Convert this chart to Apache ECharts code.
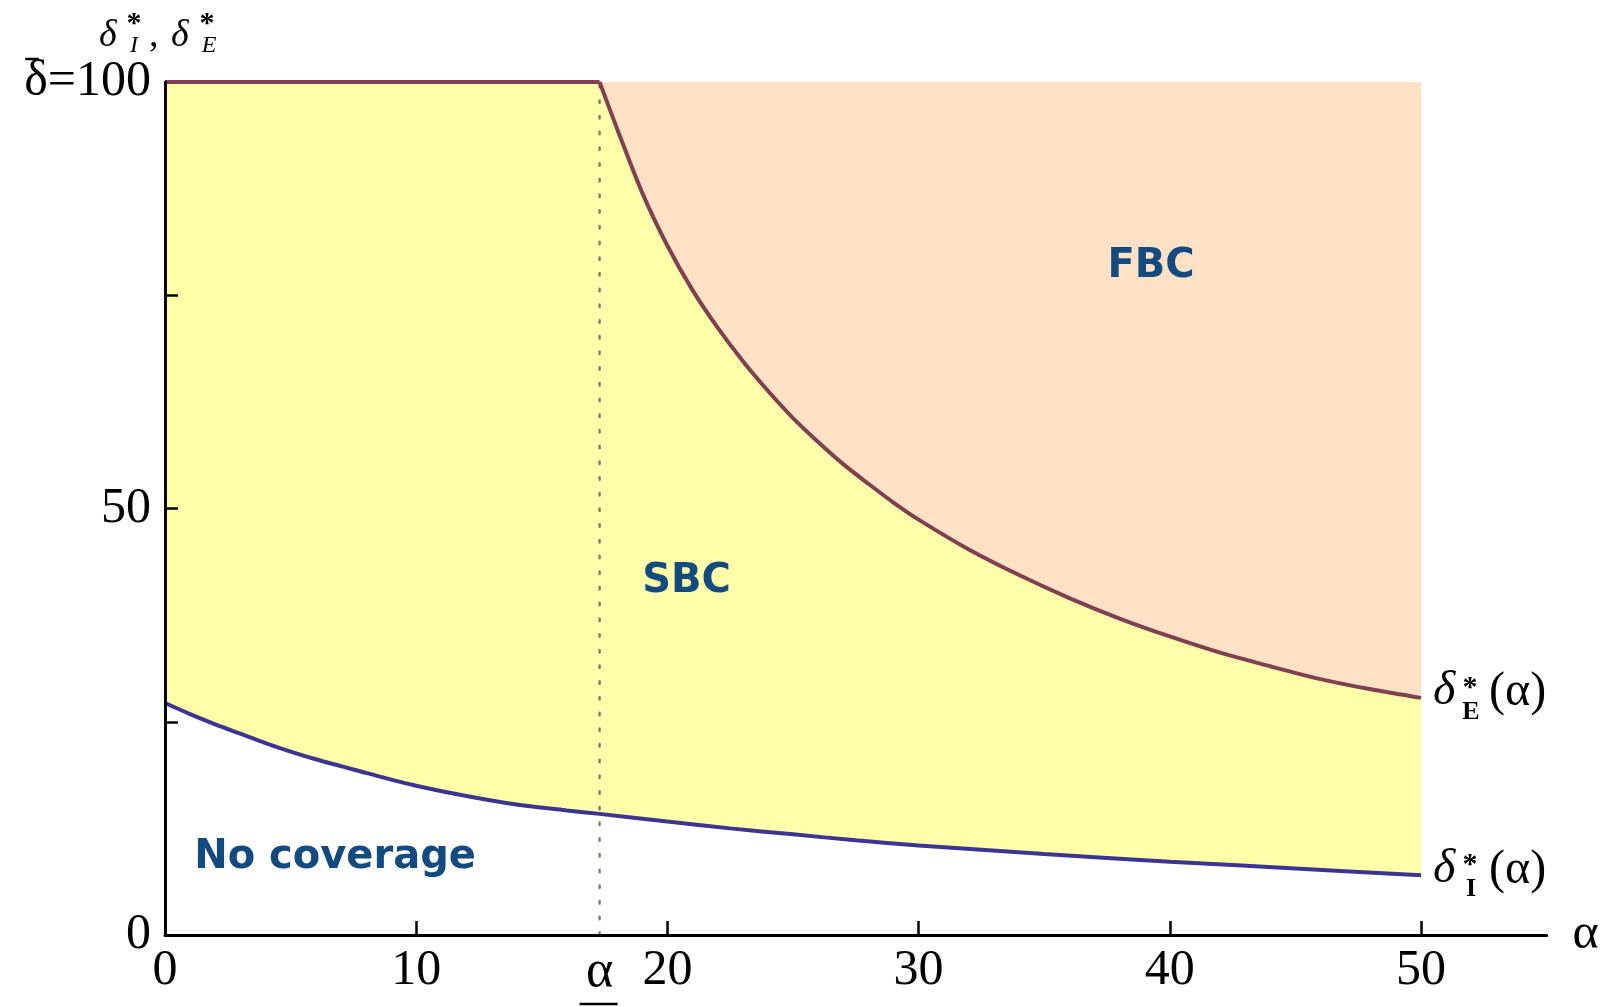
<!DOCTYPE html>
<html><head><meta charset="utf-8">
<script src="https://cdn.jsdelivr.net/npm/echarts@6/dist/echarts.min.js"></script>
<style>html,body{margin:0;padding:0;background:#fff}#c{width:1614px;height:1007px}</style>
</head><body><div id="c"></div>
<script>
// ---- data ----
const alphaE = [17.3,18,19,20,21,22,23,24,25,26,27,28,29,30,32,34,36,38,40,42,44,46,48,50];
const deltaE = [100,94.5,87.0,80.8,75.6,71.2,67.3,63.8,60.6,57.8,55.2,52.9,50.7,48.7,45.2,42.2,39.5,37.1,35.0,33.1,31.5,30.0,28.8,27.8];
const alphaI = [0,1,2,3,4,5,6,7,8,10,12,14,16,17.3,20,22.5,25,27.5,30,35,40,45,50];
const deltaI = [27.2,25.9,24.7,23.6,22.5,21.5,20.6,19.8,19.0,17.5,16.3,15.3,14.6,14.2,13.3,12.5,11.8,11.1,10.5,9.5,8.6,7.8,7.0];
const deltaBar = 100;
const alphaUnder = 17.3;
const xTickValues = [10,20,30,40,50];
const xLabelValues = [0,10,20,30,40,50];
const yTickValues = [25,50,75];
const yLabelValues = [0,50,100];
const regionNames = ['FBC','SBC','No coverage'];
const regionAlpha = [39.25,20.76,6.77];
const regionDelta = [78.3,41.4,9.06];

// ---- build ----
const SERIF = '"Liberation Serif", "Times New Roman", serif';
const ePts = alphaE.map((a,i)=>[a,deltaE[i]]);
const flatPts = [[0,deltaBar],[alphaE[0],deltaE[0]]];
const iPts = alphaI.map((a,i)=>[a,deltaI[i]]);
const regionPts = regionNames.map((n,i)=>({name:n,value:[regionAlpha[i],regionDelta[i]]}));

const chart = echarts.init(document.getElementById('c'), null, {renderer:'canvas'});
const axisCommon = {
  z:10,
  splitLine:{show:false},
  axisLine:{show:true, onZero:false, lineStyle:{color:'#000',width:3}},
};
const SM = 0.3;
chart.setOption({
  animation:false,
  backgroundColor:'#fff',
  grid:{left:165, top:82, width:1381.6, height:853},
  xAxis:Object.assign({}, axisCommon, {
    type:'value', min:0, max:55, interval:10,
    axisTick:{show:true, inside:true, length:14, customValues:xTickValues, lineStyle:{color:'#000',width:2.5}},
    axisLabel:{show:true, customValues:xLabelValues, margin:11, fontSize:50, fontFamily:SERIF, color:'#000'},
    name:'α', nameLocation:'end', nameGap:26,
    nameTextStyle:{fontSize:50, fontFamily:SERIF, color:'#000', verticalAlign:'middle', align:'left'}
  }),
  yAxis:Object.assign({}, axisCommon, {
    type:'value', min:0, max:100, interval:25,
    axisTick:{show:true, inside:true, length:13, customValues:yTickValues, lineStyle:{color:'#000',width:2.5}},
    axisLabel:{show:true, customValues:yLabelValues, margin:14, fontSize:50, fontFamily:SERIF, color:'#000',
      formatter:v => v===100 ? 'δ=100' : String(v)}
  }),
  series:[
    {type:'line', data:ePts, smooth:SM, showSymbol:false, symbol:'none', lineStyle:{width:0}, z:1,
     areaStyle:{color:'#FFE2C6', opacity:1, origin:'end'}},
    {type:'line', data:ePts, smooth:SM, showSymbol:false, symbol:'none', lineStyle:{width:0}, z:1,
     areaStyle:{color:'#FFFFAA', opacity:1, origin:'start'}},
    {type:'line', data:flatPts, showSymbol:false, symbol:'none', lineStyle:{width:0}, z:1,
     areaStyle:{color:'#FFFFAA', opacity:1, origin:'start'}},
    {type:'line', data:iPts, smooth:SM, showSymbol:false, symbol:'none', lineStyle:{width:0}, z:2,
     areaStyle:{color:'#FFFFFF', opacity:1, origin:'start'}},
    {type:'line', data:[[alphaUnder,0],[alphaUnder,deltaBar]], showSymbol:false, symbol:'none', z:3,
     lineStyle:{color:'#80806A', width:2.5, type:[2.5,13.2], cap:'round'}},
    {type:'line', data:flatPts, showSymbol:false, symbol:'none', z:4,
     lineStyle:{color:'#80404F', width:4}},
    {type:'line', data:ePts, smooth:SM, showSymbol:false, symbol:'none', z:4,
     lineStyle:{color:'#80404F', width:4}},
    {type:'line', data:iPts, smooth:SM, showSymbol:false, symbol:'none', z:4,
     lineStyle:{color:'#3B3591', width:4}},
    {type:'scatter', data:regionPts, symbolSize:0, z:5, itemStyle:{color:'#134A80'},
     label:{show:true, position:'inside', formatter:p=>p.name, fontFamily:'"DejaVu Sans", sans-serif',
       fontWeight:'bold', fontSize:40, color:'#134A80', opacity:1, textBorderWidth:0, textBorderColor:'transparent',
       textShadowBlur:0}}
  ]
});

// ---- annotations ----
const P = (x,y) => chart.convertToPixel({xAxisIndex:0, yAxisIndex:0}, [x,y]);
function txt(text, x, y, size, opts) {
  opts = opts || {};
  return {type:'text', x:x, y:y, z:20, zlevel:1, silent:true, style:{
    text:text, fontSize:size, fontFamily:SERIF, fill:'#000',
    fontStyle:opts.italic?'italic':'normal', fontWeight:opts.bold?'bold':'normal',
    align:opts.align||'left', verticalAlign:'middle'}};
}
const g = [];
// y axis name
const o = P(0, deltaBar);
g.push(txt('δ', o[0]-66, o[1]-46, 38, {italic:true}));
g.push(txt('*', o[0]-31, o[1]-58, 30, {bold:true, align:'center'}));
g.push(txt('I', o[0]-31, o[1]-36, 24, {italic:true, align:'center'}));
g.push(txt(',', o[0]-16, o[1]-46, 38));
g.push(txt('δ', o[0]+6, o[1]-46, 38, {italic:true}));
g.push(txt('*', o[0]+42, o[1]-58, 30, {bold:true, align:'center'}));
g.push(txt('E', o[0]+44, o[1]-36, 24, {italic:true, align:'center'}));
// bar over δ in the 100 label
const ctx = document.createElement('canvas').getContext('2d');
ctx.font = '50px ' + SERIF;
const wAll = ctx.measureText('δ=100').width, wD = ctx.measureText('δ').width;
const left = o[0] - 14 - wAll;
g.push({type:'line', z:20, silent:true, shape:{x1:left+1, y1:o[1]-23, x2:left+wD*0.62, y2:o[1]-23},
  style:{stroke:'#000', lineWidth:2.5}});
// curve labels
function curveLabel(a, sub) {
  g.push(txt('δ', a[0]+12, a[1]-6, 48, {italic:true}));
  g.push(txt('*', a[0]+49, a[1]-10, 30, {bold:true, align:'center'}));
  g.push(txt(sub, a[0]+50, a[1]+14, 26, {bold:true, align:'center'}));
  g.push(txt('(α)', a[0]+68, a[1]-5, 48));
}
curveLabel(P(alphaE[alphaE.length-1], deltaE[deltaE.length-1]), 'E');
curveLabel(P(alphaI[alphaI.length-1], deltaI[deltaI.length-1]), 'I');
// underlined alpha
const u = P(alphaUnder, 0);
g.push(txt('α', u[0], u[1]+37, 52, {align:'center'}));
g.push({type:'line', z:20, silent:true, shape:{x1:u[0]-20, y1:u[1]+69, x2:u[0]+18, y2:u[1]+69},
  style:{stroke:'#000', lineWidth:2.5}});
chart.setOption({graphic:g});
</script></body></html>
